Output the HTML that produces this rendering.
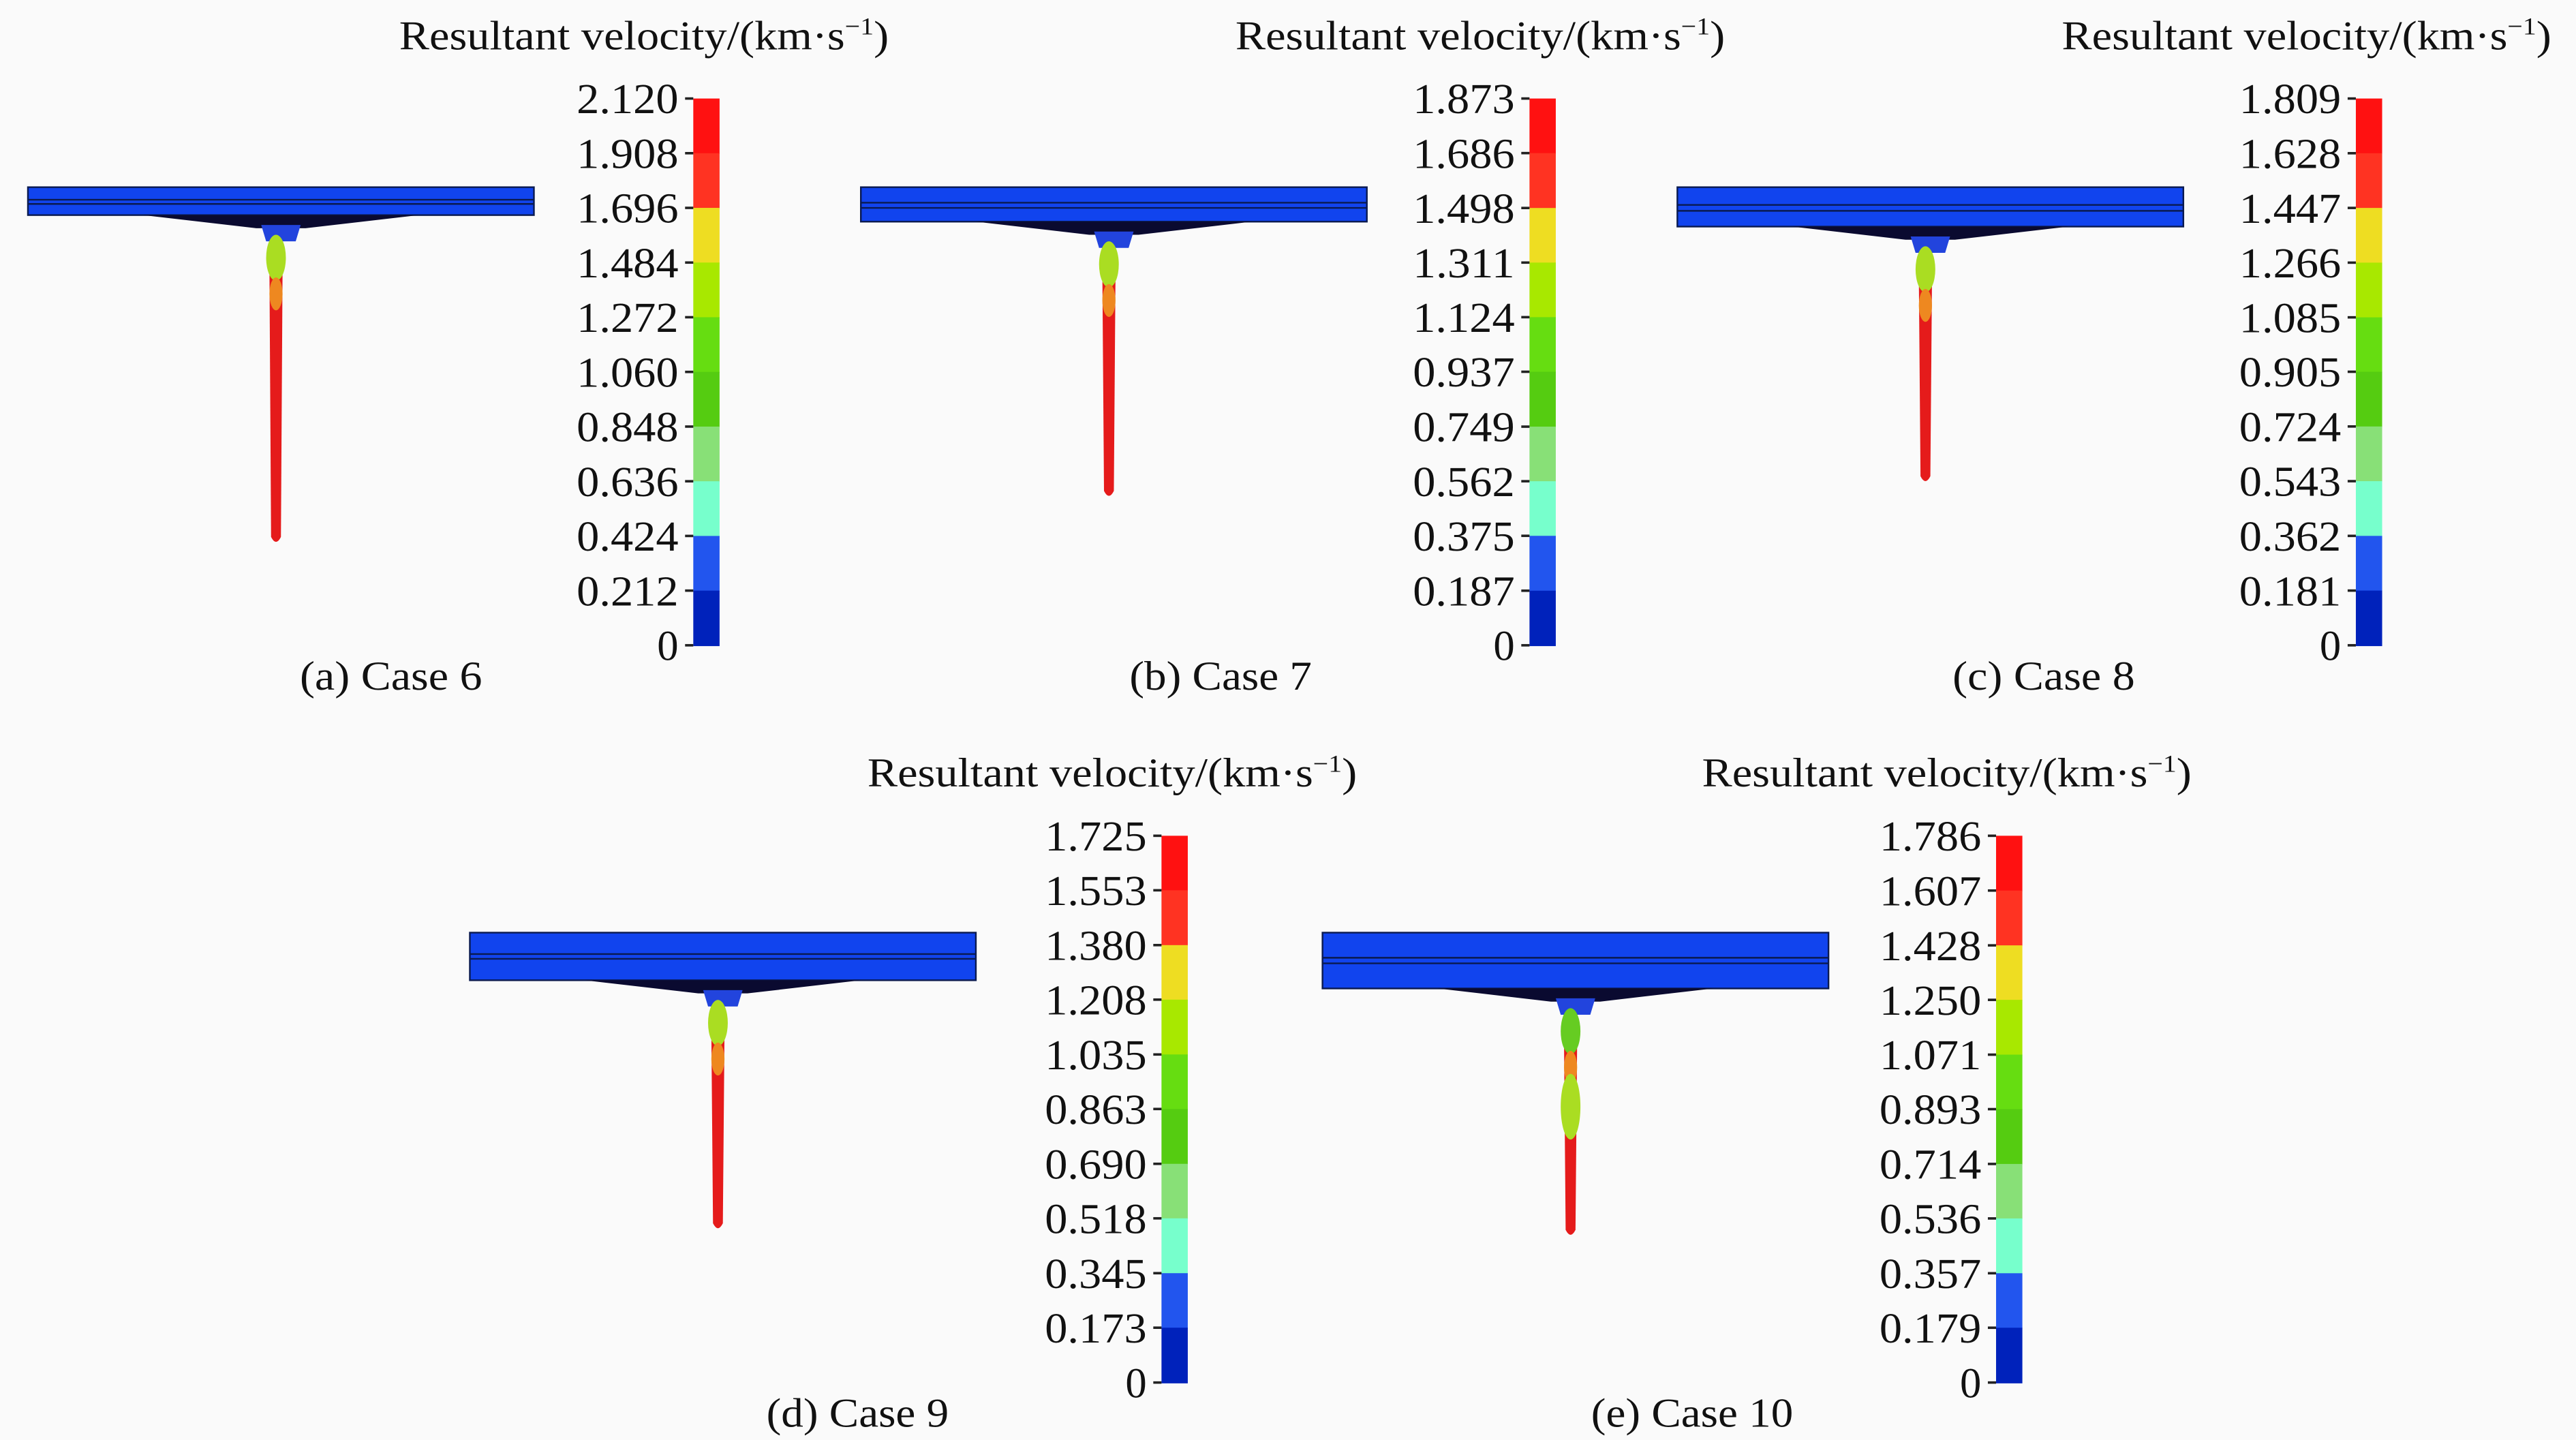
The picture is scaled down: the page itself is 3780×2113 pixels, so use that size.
<!DOCTYPE html>
<html><head><meta charset="utf-8"><style>
html,body{margin:0;padding:0;background:#fafafa;}
svg{display:block;}
text{font-family:"Liberation Serif",serif;fill:#111;}
</style></head><body>
<svg id="fig" width="3780" height="2113" viewBox="0 0 1568 877" preserveAspectRatio="none" xmlns="http://www.w3.org/2000/svg">
<rect x="0" y="0" width="1568" height="877" fill="#fafafa"/>
</svg>
<script>
const caseNames = ["(a) Case 6","(b) Case 7","(c) Case 8","(d) Case 9","(e) Case 10"];
const maxVelocity = [2.120, 1.873, 1.809, 1.725, 1.786];
const tickLabels6 = ["2.120","1.908","1.696","1.484","1.272","1.060","0.848","0.636","0.424","0.212","0"];
const tickLabels7 = ["1.873","1.686","1.498","1.311","1.124","0.937","0.749","0.562","0.375","0.187","0"];
const tickLabels8 = ["1.809","1.628","1.447","1.266","1.085","0.905","0.724","0.543","0.362","0.181","0"];
const tickLabels9 = ["1.725","1.553","1.380","1.208","1.035","0.863","0.690","0.518","0.345","0.173","0"];
const tickLabels10 = ["1.786","1.607","1.428","1.250","1.071","0.893","0.714","0.536","0.357","0.179","0"];
const bandColors = ["#ff1111","#ff3322","#eedd22","#a8e800","#66dd11","#55cc11","#88e077","#77ffcc","#2255ee","#0022bb"];
const jetLength = [188, 156, 144, 140, 139];
const plateThickness = [17, 21, 24, 29, 34];

const svg = document.getElementById('fig');
const NS = "http://www.w3.org/2000/svg";
function mk(tag, attrs, parent){
  const e = document.createElementNS(NS, tag);
  for (const k in attrs) e.setAttribute(k, attrs[k]);
  (parent||svg).appendChild(e);
  return e;
}
const layout = [
  {px:17, py:114, cx:422, cy:60, ty:30, capx:238, capy:420},
  {px:524, py:114, cx:931, cy:60, ty:30, capx:743, capy:420},
  {px:1021, py:114, cx:1434, cy:60, ty:30, capx:1244, capy:420},
  {px:286, py:568, cx:707, cy:509, ty:479, capx:522, capy:869},
  {px:805, py:568, cx:1215, cy:509, ty:479, capx:1030, capy:869}
];
const allTicks = [tickLabels6,tickLabels7,tickLabels8,tickLabels9,tickLabels10];
const slugs = ["case-6","case-7","case-8","case-9","case-10"];
const barH = 333, barW = 16, plateW = 308;

layout.forEach((L, i) => {
  const g = mk('g', {});
  
  
  const t = mk('text', {x: L.cx - 179, y: L.ty, 'font-size': 25, textLength: 298, lengthAdjust: 'spacingAndGlyphs'}, g);
  
  
  t.innerHTML = 'Resultant velocity/(km·s<tspan dy="-9" font-size="15">−1</tspan><tspan dy="9">)</tspan>';
  const scale = v => L.cy + barH * (1 - v / maxVelocity[i]);
  const ticks = allTicks[i];
  for (let k = 0; k < 10; k++) {
    const v0 = parseFloat(ticks[k]), v1 = parseFloat(ticks[k+1]);
    const y0 = scale(v0), y1 = scale(v1);
    const r = mk('rect', {x: L.cx, y: y0, width: barW, height: y1 - y0 + 0.5, fill: bandColors[k]}, g);
    
    
  }
  ticks.forEach(lbl => {
    const y = scale(parseFloat(lbl));
    const ln = mk('line', {x1: L.cx - 5, x2: L.cx, y1: y, y2: y, stroke: '#222', 'stroke-width': 1.5}, g);
    
    
    const tx = mk('text', {x: L.cx - 9, y: y + 9, 'font-size': 26, 'text-anchor': 'end'}, g);
    if (lbl.length > 1) { tx.setAttribute('textLength', 62); tx.setAttribute('lengthAdjust', 'spacingAndGlyphs'); }
    
    
    tx.textContent = lbl;
  });
  const c = mk('text', {x: L.capx, y: L.capy, 'font-size': 25, 'text-anchor': 'middle', textLength: i===4?123:111, lengthAdjust:'spacingAndGlyphs'}, g);
  
  
  c.textContent = caseNames[i];
  const th = plateThickness[i];
  const p = mk('rect', {x: L.px, y: L.py, width: plateW, height: th, fill: '#1144ee', stroke: '#0a1a50', 'stroke-width': 1}, g);
  
  
  const lines = i < 3 ? [0.45, 0.6] : [0.45, 0.55];
  lines.forEach(f => {
    const pl = mk('line', {x1: L.px, x2: L.px + plateW, y1: L.py + th * f, y2: L.py + th * f, stroke: '#0a1a50', 'stroke-width': 1}, g);
    
    
  });
  const mid = L.px + plateW / 2, by = L.py + th;
  const b = mk('path', {d: `M${L.px+70},${by} L${L.px+plateW-70},${by} L${mid+15},${by+8} L${mid-15},${by+8} Z`, fill: '#0a0a30'}, g);
  
  
  const d = mk('path', {d: `M${mid-12},${by+6} L${mid+12},${by+6} L${mid+9},${by+16} L${mid-9},${by+16} Z`, fill: '#2244dd'}, g);
  
  
  const jx = mid - 3, top = by + 12, bot = top + jetLength[i];
  const j1 = mk('path', {d: `M${jx-4},${top+20} L${jx+4},${top+20} L${jx+3},${bot-4} Q${jx},${bot+2} ${jx-3},${bot-4} Z`, fill: '#e51b1b'}, g);
  
  
  const j2 = mk('ellipse', {cx: jx, cy: top + 14, rx: 6, ry: 14, fill: i===4 ? '#66cc22' : '#aadd22'}, g);
  
  
  const j3 = mk('ellipse', {cx: jx, cy: top + 36, rx: 4, ry: 10, fill: '#ee8820'}, g);
  
  
  if (i === 4) {
    const j4 = mk('ellipse', {cx: jx, cy: top + 60, rx: 6, ry: 20, fill: '#aadd22'}, g);
    
    
  }
});
</script>
</body></html>
